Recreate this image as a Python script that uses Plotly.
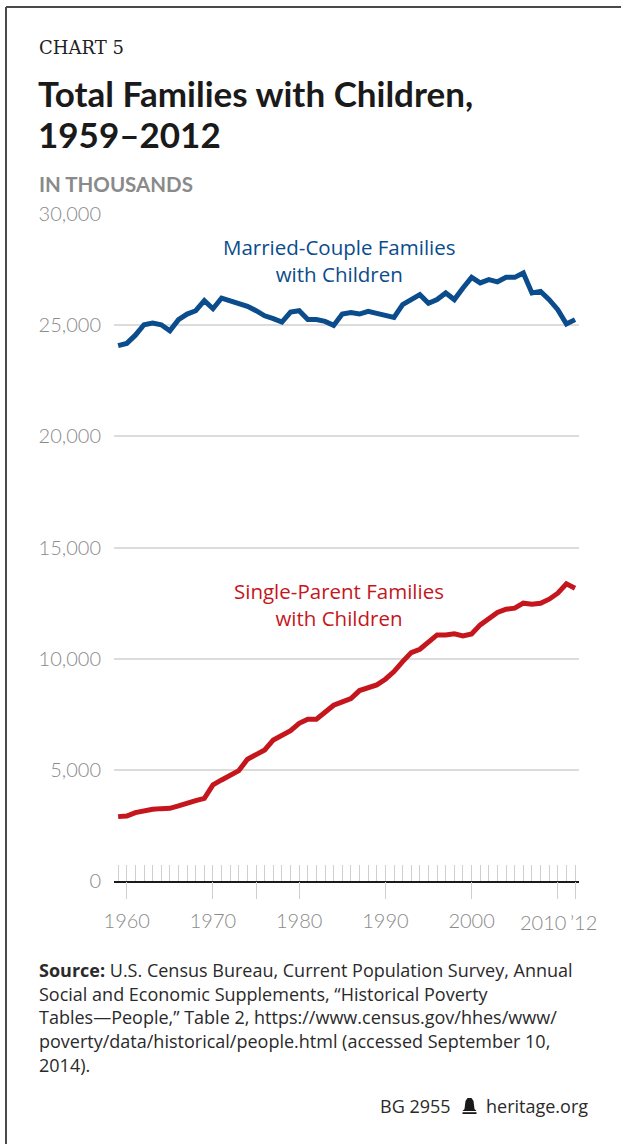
import plotly.graph_objects as go

# ---------------- data ----------------
years = list(range(1959, 2013))
married = [24080, 24180, 24550, 25020, 25100, 25020, 24750, 25250, 25500, 25650, 26100,
           25740, 26220, 26100, 25980, 25850, 25650, 25420, 25290, 25140, 25590,
           25650, 25250, 25250, 25170, 24990, 25500, 25570, 25500, 25620, 25530,
           25440, 25350, 25920, 26150, 26370, 25980, 26150, 26450, 26150, 26670,
           27150, 26900, 27050, 26950, 27150, 27150, 27350, 26450, 26520, 26150,
           25700, 25050, 25250]
single = [2895, 2925, 3075, 3165, 3225, 3255, 3270, 3375, 3525, 3615, 3720,
          4320, 4545, 4725, 4965, 5475, 5670, 5895, 6345, 6525, 6765,
          7095, 7275, 7275, 7575, 7905, 8055, 8200, 8565, 8670, 8820,
          9075, 9420, 9870, 10275, 10425, 10725, 11070, 11070, 11115, 11025,
          11115, 11520, 11820, 12075, 12225, 12270, 12495, 12450, 12495, 12675,
          12945, 13365, 13170]
assert len(married) == len(years) == len(single)

y_ticks = [0, 5000, 10000, 15000, 20000, 25000, 30000]
y_ticktext = ["0", "5,000", "10,000", "15,000", "20,000", "25,000", "30,000"]
x_major = [1960, 1970, 1975, 1980, 1990, 2000, 2010, 2012]
x_major_text = ["1960", "1970", "", "1980", "1990", "2000", "", ""]

source_lines = [
    "<b>Source:</b> U.S. Census Bureau, Current Population Survey, Annual",
    "Social and Economic Supplements, \u201cHistorical Poverty",
    "Tables\u2014People,\u201d Table 2, https://www.census.gov/hhes/www/",
    "poverty/data/historical/people.html (accessed September 10,",
    "2014).",
]

# ---------------- layout geometry ----------------
W, H = 621, 1144
L, R, T, B = 114, 42, 214, 263
PW, PH = W - L - R, H - T - B


def px(x):
    return (x - L) / PW


def py(y):
    return (H - B - y) / PH


BLUE = "#0a4c8c"
RED = "#c5161d"
GRAY = "#8a8a8a"
FONT = "Lato"
BODY = "Open Sans"

fig = go.Figure()
fig.add_trace(go.Scatter(x=years, y=married, mode="lines",
                         line=dict(color=BLUE, width=5), hoverinfo="skip", showlegend=False))
fig.add_trace(go.Scatter(x=years, y=single, mode="lines",
                         line=dict(color=RED, width=5), hoverinfo="skip", showlegend=False))
# invisible trace to carry the labelled x axis
fig.add_trace(go.Scatter(x=[years[0]], y=[0], xaxis="x2", mode="markers",
                         marker=dict(opacity=0), hoverinfo="skip", showlegend=False))

xr = [1958.52, 2012.46]

fig.update_layout(
    width=W, height=H,
    margin=dict(l=L, r=R, t=T, b=B, autoexpand=False),
    paper_bgcolor="white", plot_bgcolor="white",
    font=dict(family=FONT, color=GRAY),
    xaxis=dict(range=xr, tickmode="array", tickvals=years, ticks="inside",
               ticklen=16, tickwidth=1.2, tickcolor="#cfcfcf",
               showticklabels=False, showgrid=False, zeroline=False,
               showline=True, linecolor="#1a1a1a", linewidth=2),
    xaxis2=dict(range=xr, overlaying="x", anchor="y", side="bottom",
                tickmode="array", tickvals=x_major, ticktext=x_major_text,
                ticks="outside", ticklen=17, tickwidth=1.2, tickcolor="#cfcfcf",
                showgrid=False, zeroline=False, showline=False,
                tickfont=dict(family=FONT, size=20, color=GRAY, weight=300),
                ticklabelstandoff=5),
    yaxis=dict(range=[0, 30000], tickmode="array", tickvals=y_ticks, ticktext=y_ticktext,
               showgrid=True, gridcolor="#dcdcdc", gridwidth=1.5, zeroline=False,
               ticks="", tickfont=dict(family=FONT, size=20, color=GRAY, weight=300),
               ticklabelstandoff=12, showline=False),
)

ann = []
ann.append(dict(text="CHART 5", x=px(37), y=py(47), xanchor="left", yanchor="middle",
                font=dict(family="DejaVu Serif", size=18, color="#222222")))
ann.append(dict(text="<b>Total Families with Children,</b>", x=px(36), y=py(93),
                xanchor="left", yanchor="middle",
                font=dict(family=FONT, size=35, color="#1a1a1a")))
ann.append(dict(text="<b>1959\u20132012</b>", x=px(36), y=py(134),
                xanchor="left", yanchor="middle",
                font=dict(family=FONT, size=35, color="#1a1a1a")))
ann.append(dict(text="<b>IN THOUSANDS</b>", x=px(37), y=py(184),
                xanchor="left", yanchor="middle",
                font=dict(family=FONT, size=20.5, color=GRAY)))
ann.append(dict(text="Married-Couple Families<br>with Children", x=px(339), y=py(260.5),
                xanchor="center", yanchor="middle", align="center",
                font=dict(family=BODY, size=20.5, color=BLUE)))
ann.append(dict(text="Single-Parent Families<br>with Children", x=px(339), y=py(604.5),
                xanchor="center", yanchor="middle", align="center",
                font=dict(family=BODY, size=20.5, color=RED)))
# crowded end labels of the x axis
ann.append(dict(text="2010", x=2010, xref="x", y=py(921.7), yref="paper",
                xanchor="center", yanchor="middle", xshift=-15,
                font=dict(family=FONT, size=20, color=GRAY, weight=300)))
ann.append(dict(text="\u201912", x=2012, xref="x", y=py(921.7), yref="paper",
                xanchor="center", yanchor="middle", xshift=8,
                font=dict(family=FONT, size=20, color=GRAY, weight=300)))
for i, line in enumerate(source_lines):
    ann.append(dict(text=line, x=px(37), y=py(969.7 + i * 23.8),
                    xanchor="left", yanchor="middle",
                    font=dict(family=BODY, size=18, color="#2a2a2a")))
ann.append(dict(text="BG 2955", x=px(453), y=py(1106), xanchor="right", yanchor="middle",
                font=dict(family=BODY, size=18, color="#2a2a2a")))
ann.append(dict(text="heritage.org", x=px(484), y=py(1106), xanchor="left", yanchor="middle",
                font=dict(family=BODY, size=18, color="#2a2a2a")))

for a in ann:
    a.setdefault("xref", "paper")
    a.setdefault("yref", "paper")
    a["showarrow"] = False
fig.update_layout(annotations=ann)


def pth(points):
    s = "M " + " L ".join(f"{px(x):.5f},{py(y):.5f}" for x, y in points) + " Z"
    return s


shapes = [
    # frame
    dict(type="line", xref="paper", yref="paper", x0=px(6), x1=px(621), y0=py(7), y1=py(7),
         line=dict(color="#4a4a4a", width=2)),
    dict(type="line", xref="paper", yref="paper", x0=px(6), x1=px(6), y0=py(7), y1=py(1144),
         line=dict(color="#4a4a4a", width=2)),
    # bell logo
    dict(type="path", xref="paper", yref="paper",
         path=pth([(467.5, 1098), (471.5, 1098), (473.5, 1101), (474.5, 1109), (476.5, 1111),
                   (462.5, 1111), (464.5, 1109), (465.5, 1101)]),
         fillcolor="#1a1a1a", line=dict(width=0)),
    dict(type="rect", xref="paper", yref="paper", x0=px(462.5), x1=px(476.5),
         y0=py(1112.2), y1=py(1114), fillcolor="#1a1a1a", line=dict(width=0)),
]
fig.update_layout(shapes=shapes)

fig.write_html("out.html")
